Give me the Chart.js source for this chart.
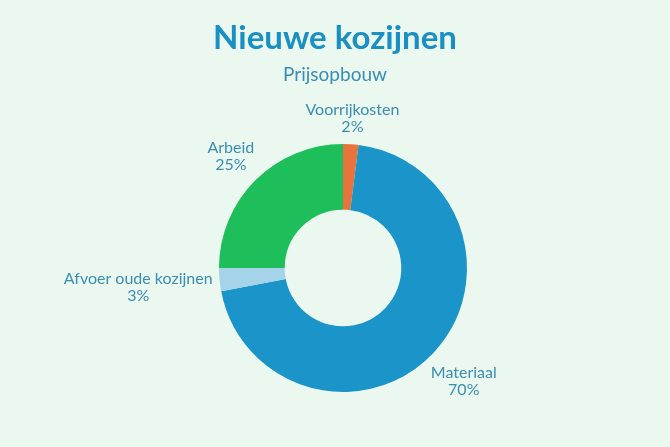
<!DOCTYPE html>
<html>
<head>
<meta charset="utf-8">
<script src="https://cdn.jsdelivr.net/npm/chart.js@4.4.1/dist/chart.umd.min.js"></script>
<style>
  html, body { margin:0; padding:0; background:#eaf8f0; }
  #wrap { width:670px; height:447px; position:relative; }
</style>
</head>
<body>
<div id="wrap"><canvas id="kozijnen"></canvas></div>
<script>
const title = 'Nieuwe kozijnen';
const subtitle = 'Prijsopbouw';
const labels = ['Voorrijkosten', 'Materiaal', 'Afvoer oude kozijnen', 'Arbeid'];
const shares = [2, 70, 3, 25];
const colors = ['#e8743b', '#1a94c9', '#a5d4ea', '#1ebe5a'];

const labelColor = '#3a8db3';

// Titel en ondertitel gecentreerd op het hele canvas (de ring zelf staat iets rechts)
const headings = {
  id: 'headings',
  afterDraw(chart) {
    const ctx = chart.ctx;
    const cx = chart.width / 2;
    ctx.save();
    ctx.textAlign = 'center';
    ctx.textBaseline = 'alphabetic';
    ctx.fillStyle = '#1a8fc4';
    ctx.font = 'bold 33px Lato';
    ctx.fillText(title, cx, 49);
    ctx.fillStyle = labelColor;
    ctx.font = '19px Lato';
    ctx.fillText(subtitle, cx, 81);
    ctx.restore();
  }
};

// Tekst buiten de ring, langs de middenhoek van elk segment
const outsideLabels = {
  id: 'outsideLabels',
  afterDatasetsDraw(chart) {
    const ctx = chart.ctx;
    const meta = chart.getDatasetMeta(0);
    ctx.save();
    ctx.font = '16px Lato';
    ctx.fillStyle = labelColor;
    ctx.textBaseline = 'middle';
    ctx.textAlign = 'center';
    const lh = 17;
    meta.data.forEach((arc, i) => {
      const a = (arc.startAngle + arc.endAngle) / 2;
      const lines = [labels[i], shares[i] + '%'];
      const w = Math.max(...lines.map(l => ctx.measureText(l).width));
      const h = lines.length * lh;
      const c = Math.cos(a), s = Math.sin(a);
      const r = arc.outerRadius + 6 + Math.abs(c) * w / 2 + Math.abs(s) * h / 2;
      const bx = arc.x + c * r;
      const by = arc.y + s * r;
      lines.forEach((l, j) => ctx.fillText(l, bx, by - h / 2 + lh * j + lh / 2));
    });
    ctx.restore();
  }
};

new Chart(document.getElementById('kozijnen'), {
  type: 'doughnut',
  data: {
    labels: labels,
    datasets: [{
      data: shares,
      backgroundColor: colors,
      borderWidth: 0
    }]
  },
  options: {
    responsive: true,
    maintainAspectRatio: false,
    animation: false,
    cutout: '47%',
    layout: { padding: { top: 144, bottom: 55, left: 16, right: 0 } },
    plugins: {
      legend: { display: false },
      tooltip: { enabled: false }
    }
  },
  plugins: [outsideLabels, headings]
});
</script>
</body>
</html>
